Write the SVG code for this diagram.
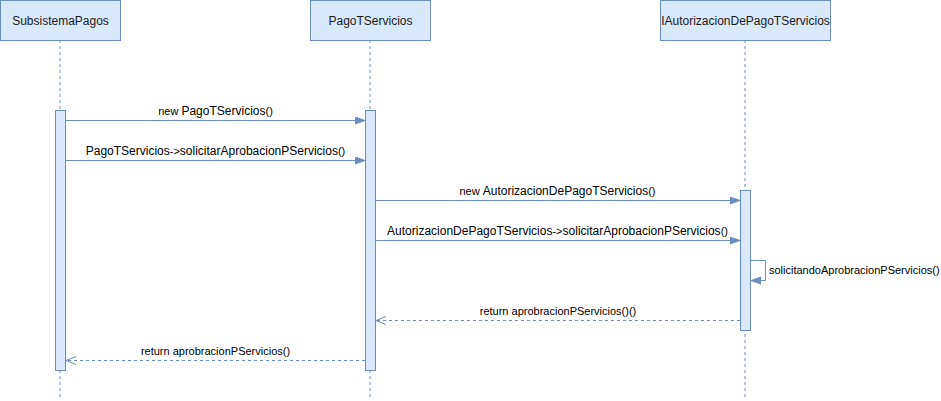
<svg xmlns="http://www.w3.org/2000/svg" width="941" height="401" viewBox="0 0 941 401">
<style>
.box{fill:#dae8fc;stroke:#6c8ebf;stroke-width:1}
.life{stroke:#6c8ebf;stroke-width:1;stroke-dasharray:3 3;fill:none}
.msg{stroke:#6c8ebf;stroke-width:1;fill:none}
.ret{stroke:#6c8ebf;stroke-width:1;fill:none;stroke-dasharray:3 3}
.t{font-family:"Liberation Sans",Arial,sans-serif;font-size:12px;fill:#1a1a1a}
.l{font-family:"Liberation Sans",Arial,sans-serif;font-size:11px;fill:#000}
.b{font-size:12px}
</style>
<defs>
<marker id="block" markerUnits="userSpaceOnUse" markerWidth="11" markerHeight="9" refX="10" refY="4" orient="auto">
<path d="M0,0.5 L10,4 L0,7.5 z" fill="#6c8ebf" stroke="#6c8ebf" stroke-width="1"/>
</marker>
<marker id="open" markerUnits="userSpaceOnUse" markerWidth="12" markerHeight="10" refX="11" refY="5" orient="auto">
<path d="M1,1 L11,5 L1,9" fill="none" stroke="#6c8ebf" stroke-width="1"/>
</marker>
</defs>
<g id="lifelines">
<line class="life" x1="60" y1="40" x2="60" y2="400"/>
<line class="life" x1="370" y1="40" x2="370" y2="400"/>
<line class="life" x1="745" y1="40" x2="745" y2="400"/>
</g>
<g id="SubsistemaPagos">
<rect class="box" x="0.5" y="0.5" width="120" height="40"/>
<text class="t" x="60.5" y="24.5" text-anchor="middle">SubsistemaPagos</text>
<rect class="box" x="55.5" y="110.5" width="10" height="260"/>
</g>
<g id="PagoTServicios">
<rect class="box" x="310.5" y="0.5" width="120" height="40"/>
<text class="t" x="370.5" y="24.5" text-anchor="middle">PagoTServicios</text>
<rect class="box" x="365.5" y="110.5" width="10" height="260"/>
</g>
<g id="IAutorizacionDePagoTServicios">
<rect class="box" x="660.5" y="0.5" width="170" height="40"/>
<text class="t" x="745.5" y="24.5" text-anchor="middle">IAutorizacionDePagoTServicios</text>
<rect class="box" x="740.5" y="190.5" width="10" height="140"/>
</g>
<g id="connectors">
<line class="msg" x1="66" y1="120.5" x2="365" y2="120.5" marker-end="url(#block)"/>
<line class="msg" x1="66" y1="160.5" x2="365" y2="160.5" marker-end="url(#block)"/>
<line class="msg" x1="376" y1="200.5" x2="740" y2="200.5" marker-end="url(#block)"/>
<line class="msg" x1="376" y1="240.5" x2="740" y2="240.5" marker-end="url(#block)"/>
<path class="msg" d="M751,260.5 H765.5 V280.5 H751" marker-end="url(#block)"/>
<line class="ret" x1="740" y1="320.5" x2="376" y2="320.5" marker-end="url(#open)"/>
<line class="ret" x1="365" y1="360.5" x2="66" y2="360.5" marker-end="url(#open)"/>
</g>
<g id="labels">
<text class="l" x="215.5" y="115" text-anchor="middle">new <tspan class="b">PagoTServicios</tspan>()</text>
<text class="l" x="215.5" y="155" text-anchor="middle"><tspan class="b">PagoTServicios</tspan>-&gt;<tspan class="b">solicitarAprobacionPServicios</tspan>()</text>
<text class="l" x="557.5" y="195" text-anchor="middle">new <tspan class="b">AutorizacionDePagoTServicios</tspan>()</text>
<text class="l" x="557.5" y="235" text-anchor="middle"><tspan class="b">AutorizacionDePagoTServicios</tspan>-&gt;<tspan class="b">solicitarAprobacionPServicios</tspan>()</text>
<text class="l" x="769" y="274">solicitandoAprobracionPServicios()</text>
<text class="l" x="558" y="315" text-anchor="middle">return aprobracionPServicios()()</text>
<text class="l" x="215.5" y="355" text-anchor="middle">return aprobracionPServicios()</text>
</g>
</svg>
